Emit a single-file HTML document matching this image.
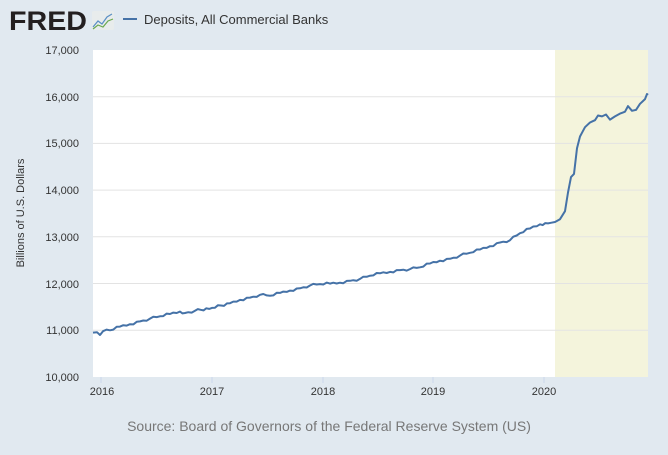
<!DOCTYPE html>
<html><head><meta charset="utf-8"><style>
body{margin:0;width:668px;height:450px;background:#e1e9f0;font-family:"Liberation Sans",sans-serif;overflow:hidden}
</style></head><body>
<svg width="668" height="450" xmlns="http://www.w3.org/2000/svg" font-family="Liberation Sans, sans-serif">
<rect width="668" height="450" fill="#e1e9f0"/>
<text x="9" y="30" font-size="27" font-weight="bold" fill="#231f20" textLength="78" lengthAdjust="spacingAndGlyphs">FRED</text>
<rect x="92" y="11" width="22" height="19" fill="#e8ecec" rx="2"/>
<polyline points="93,27 98,21 102,24 107,17 112,14" fill="none" stroke="#5a8fc4" stroke-width="1.2"/>
<polyline points="93,29 98,25 103,27 108,21 113,19" fill="none" stroke="#6aa84f" stroke-width="1.2"/>
<line x1="123" y1="19" x2="137" y2="19" stroke="#4572a7" stroke-width="2"/>
<text x="144" y="24" font-size="13" fill="#333">Deposits, All Commercial Banks</text>
<rect x="93" y="50" width="555" height="327" fill="#fff"/>
<rect x="555" y="50" width="93" height="327" fill="#f4f4dc"/>
<g stroke="#e3e3e3" stroke-width="1">
<line x1="93" x2="648" y1="96.7" y2="96.7"/><line x1="93" x2="648" y1="143.4" y2="143.4"/>
<line x1="93" x2="648" y1="190.1" y2="190.1"/><line x1="93" x2="648" y1="236.8" y2="236.8"/>
<line x1="93" x2="648" y1="283.5" y2="283.5"/><line x1="93" x2="648" y1="330.2" y2="330.2"/>
</g>
<g font-size="11" fill="#333" text-anchor="end">
<text x="79" y="54">17,000</text><text x="79" y="101">16,000</text><text x="79" y="147">15,000</text>
<text x="79" y="194">14,000</text><text x="79" y="241">13,000</text><text x="79" y="288">12,000</text>
<text x="79" y="334">11,000</text><text x="79" y="381">10,000</text>
</g>
<g stroke="#ccd6eb"><line x1="101" x2="101" y1="377" y2="383"/><line x1="212" x2="212" y1="377" y2="383"/><line x1="323" x2="323" y1="377" y2="383"/><line x1="433" x2="433" y1="377" y2="383"/><line x1="544" x2="544" y1="377" y2="383"/></g>
<g font-size="11" fill="#333" text-anchor="middle">
<text x="102" y="395">2016</text><text x="212" y="395">2017</text><text x="323" y="395">2018</text><text x="433" y="395">2019</text><text x="544" y="395">2020</text>
</g>
<text transform="translate(24,213) rotate(-90)" font-size="11" fill="#333" text-anchor="middle">Billions of U.S. Dollars</text>
<polyline id="ln" fill="none" stroke="#4572a7" stroke-width="2" stroke-linejoin="round"/>
<text x="329" y="431" font-size="14" fill="#777" text-anchor="middle">Source: Board of Governors of the Federal Reserve System (US)</text>
</svg>
<script>
var d=[[93,10950],[97,10960],[100,10900],[103,10980],[110,11000],[120,11080],[130,11130],[140,11190],[150,11250],[160,11300],[170,11350],[180,11400],[185,11370],[195,11420],[212,11480],[230,11580],[240,11650],[250,11700],[260,11760],[270,11740],[280,11800],[290,11850],[300,11900],[310,11960],[320,11990],[330,12000],[340,12020],[350,12060],[360,12100],[370,12170],[380,12220],[390,12250],[400,12290],[410,12310],[420,12350],[430,12430],[440,12490],[450,12530],[460,12600],[470,12660],[480,12730],[490,12800],[500,12880],[510,12930],[520,13080],[530,13180],[540,13270],[548,13290],[555,13320],[560,13380],[565,13550],[568,13950],[571,14280],[574,14350],[577,14900],[580,15150],[585,15350],[590,15450],[595,15500],[598,15600],[602,15580],[606,15620],[610,15510],[615,15580],[620,15640],[625,15680],[628,15800],[632,15700],[636,15720],[640,15850],[645,15950],[647,16060],[648,16040]];
var p=[];for(var i=0;i<d.length-1;i++){var a=d[i],b=d[i+1];var n=Math.max(1,Math.round((b[0]-a[0])/3));for(var k=0;k<n;k++){var t=k/n;var x=a[0]+(b[0]-a[0])*t;var v=a[1]+(b[1]-a[1])*t;if(k>0&&a[0]<550)v+=((i*7+k*13)%5-2)*12;p.push(x.toFixed(1)+","+(377-(v-10000)*0.0467).toFixed(1));}}
var l=d[d.length-1];p.push(l[0]+","+(377-(l[1]-10000)*0.0467).toFixed(1));
document.getElementById("ln").setAttribute("points",p.join(" "));
</script>
</body></html>
